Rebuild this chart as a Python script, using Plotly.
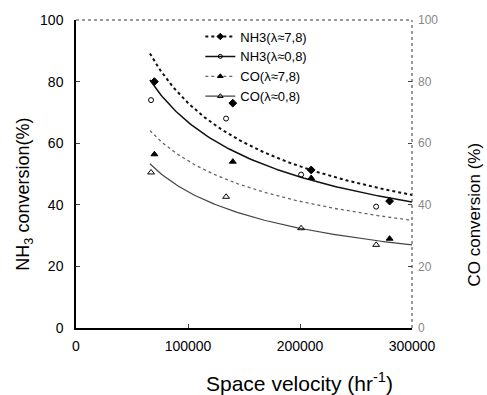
import numpy as np
import plotly.graph_objects as go

# ---- data ----
sv_high = [70000, 140000, 210000, 280000]       # x for lambda≈7.8 series
sv_low = [67000, 134000, 201000, 268000]        # x for lambda≈0.8 series
nh3_high = [80.0, 73.0, 51.3, 41.2]
nh3_low = [74.0, 68.0, 49.8, 39.4]
co_high = [56.4, 54.0, 48.7, 29.0]
co_low = [50.5, 42.6, 32.4, 27.0]
fit_domain = [66000, 300000]

names = ["NH3(λ≈7,8)", "NH3(λ≈0,8)", "CO(λ≈7,8)", "CO(λ≈0,8)"]
xs = [sv_high, sv_low, sv_high, sv_low]
ys = [nh3_high, nh3_low, co_high, co_low]
yaxes = ["y", "y", "y2", "y2"]
symbols = ["diamond", "circle-open", "triangle-up", "triangle-up-open"]
msizes = [6, 5, 6, 6]
dashes = ["dot", "solid", "dot", "solid"]
lcolors = ["#111111", "#111111", "#666666", "#444444"]
lwidths = [2.0, 1.5, 1.3, 1.2]

fig = go.Figure()

def power_fit(x, y):
    b, a = np.polyfit(np.log(x), np.log(y), 1)
    xx = np.linspace(fit_domain[0], fit_domain[1], 120)
    return xx, np.exp(a) * xx ** b

for i in range(4):
    fx, fy = power_fit(xs[i], ys[i])
    fig.add_trace(go.Scatter(x=fx, y=fy, mode="lines", yaxis=yaxes[i],
                             line=dict(color=lcolors[i], width=lwidths[i], dash=dashes[i]),
                             showlegend=False, hoverinfo="skip"))
    fig.add_trace(go.Scatter(x=xs[i], y=ys[i], mode="markers", yaxis=yaxes[i],
                             marker=dict(symbol=symbols[i], size=msizes[i], color="#000000",
                                         line=dict(color="#000000", width=1)),
                             showlegend=False))
    # legend entry (line + marker)
    fig.add_trace(go.Scatter(x=[None], y=[None], mode="lines+markers", name=names[i],
                             line=dict(color=lcolors[i], width=lwidths[i], dash=dashes[i]),
                             marker=dict(symbol=symbols[i], size=msizes[i] - 1, color="#000000",
                                         line=dict(color="#000000", width=1))))

font = "Liberation Sans, Arial, sans-serif"
fig.update_layout(
    width=487, height=395,
    margin=dict(l=76, r=75, t=14, b=67),
    paper_bgcolor="white", plot_bgcolor="white",
    font=dict(family=font, size=12, color="#000000"),
    xaxis=dict(range=[0, 300000], tickvals=[0, 100000, 200000, 300000],
               ticktext=["0", "100000", "200000", "300000"],
               ticks="inside", ticklen=4, showline=True, linecolor="#000000", linewidth=1.5,
               showgrid=False, zeroline=False, tickfont=dict(size=14), ticklabelstandoff=4),
    yaxis=dict(range=[0, 100], tickvals=[0, 20, 40, 60, 80, 100],
               ticks="inside", ticklen=4, showline=True, linecolor="#000000", linewidth=1.5,
               showgrid=False, zeroline=False, tickfont=dict(size=14), ticklabelstandoff=8),
    yaxis2=dict(range=[0, 100], tickvals=[0, 20, 40, 60, 80, 100], overlaying="y", side="right",
                ticks="inside", ticklen=4, showline=False, showgrid=False, zeroline=False,
                tickcolor="#444444", tickfont=dict(size=12, color="#888888"),
                ticklabelstandoff=5),
    legend=dict(x=0.37, y=0.995, xanchor="left", yanchor="top", bgcolor="rgba(0,0,0,0)",
                font=dict(size=13), itemwidth=30, tracegroupgap=0),
)

# dotted top and right frame
fig.add_shape(type="line", xref="paper", yref="paper", x0=0, x1=1, y0=1, y1=1,
              line=dict(color="#333333", width=1, dash="dot"))
fig.add_shape(type="line", xref="paper", yref="paper", x0=1, x1=1, y0=0, y1=1,
              line=dict(color="#333333", width=1, dash="dot"))

fig.add_annotation(text="Space velocity (hr<sup>-1</sup>)", xref="paper", yref="paper",
                   x=0.664, y=-0.175, showarrow=False, font=dict(size=21),
                   xanchor="center", yanchor="middle")
fig.add_annotation(text="NH<sub>3</sub> conversion(%)", xref="paper", yref="paper",
                   x=-0.152, y=0.436, showarrow=False, font=dict(size=18), textangle=-90,
                   xanchor="center", yanchor="middle")
fig.add_annotation(text="CO conversion (%)", xref="paper", yref="paper",
                   x=1.185, y=0.369, showarrow=False, font=dict(size=17), textangle=-90,
                   xanchor="center", yanchor="middle")

fig.write_html("out.html")
